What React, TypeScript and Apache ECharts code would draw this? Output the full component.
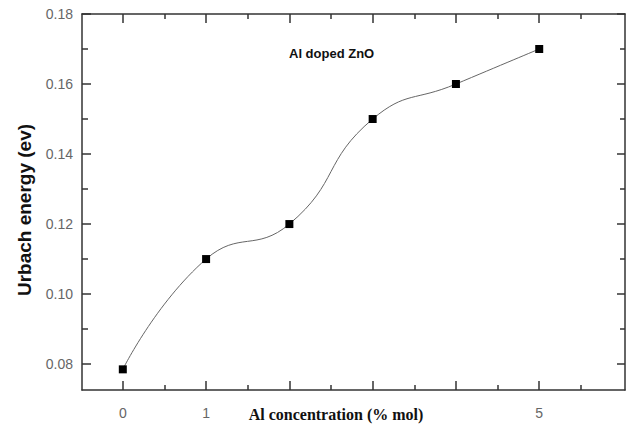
import React, { useEffect, useRef } from "react";
import * as echarts from "echarts";

const concentration = [0, 1, 2, 3, 4, 5];
const urbachEnergy = [0.0785, 0.11, 0.12, 0.15, 0.16, 0.17];
const xMajorTicks = [0, 1, 2, 3, 4, 5];
const xMinorTicks = [0.5, 1.5, 2.5, 3.5, 4.5, 5.5];
const xTickLabels = [0, 1, 5];
const yMajorTicks = [0.08, 0.1, 0.12, 0.14, 0.16, 0.18];
const yMinorTicks = [0.09, 0.11, 0.13, 0.15, 0.17];
const xTitle = "Al concentration (% mol)";
const yTitle = "Urbach energy (ev)";
const annotation = "Al doped ZnO";

const X_MIN = -0.49;
const X_MAX = 6.03;
const Y_MIN = 0.0726;
const Y_MAX = 0.18;

export default function App() {
  const ref = useRef<HTMLDivElement>(null);
  useEffect(() => {
    if (!ref.current) return;
    const chart = echarts.init(ref.current, null, { renderer: "svg" });
    const lineColor = "#333";
    const labelColor = "#666";
    const baseX = (pos: "bottom" | "top", ticks: number[], len: number, showLine: boolean, labels: boolean) => ({
      type: "value",
      position: pos,
      min: X_MIN,
      max: X_MAX,
      splitLine: { show: false },
      axisLine: { show: showLine, onZero: false, lineStyle: { color: lineColor, width: 1.5 } },
      axisTick: { show: true, inside: true, length: len, customValues: ticks, lineStyle: { color: lineColor, width: 1.5 } },
      axisLabel: labels
        ? { show: true, customValues: xTickLabels, color: labelColor, fontSize: 14, fontFamily: "Arial, Liberation Sans, sans-serif", margin: 16 }
        : { show: false },
    });
    const baseY = (pos: "left" | "right", ticks: number[], len: number, showLine: boolean, labels: boolean) => ({
      type: "value",
      position: pos,
      min: Y_MIN,
      max: Y_MAX,
      splitLine: { show: false },
      axisLine: { show: showLine, onZero: false, lineStyle: { color: lineColor, width: 1.5 } },
      axisTick: { show: true, inside: true, length: len, customValues: ticks, lineStyle: { color: lineColor, width: 1.5 } },
      axisLabel: labels
        ? {
            show: true,
            customValues: yMajorTicks,
            color: labelColor,
            fontSize: 14,
            fontFamily: "Arial, Liberation Sans, sans-serif",
            margin: 9,
            formatter: (v: number) => v.toFixed(2),
          }
        : { show: false },
    });
    chart.setOption({
      animation: false,
      backgroundColor: "#fff",
      grid: { left: 82, top: 14, right: 1, bottom: 38, containLabel: false, outerBoundsMode: "none" },
      xAxis: [
        baseX("bottom", xMajorTicks, 9, true, true),
        baseX("bottom", xMinorTicks, 5, false, false),
        baseX("top", xMajorTicks, 9, true, false),
        baseX("top", xMinorTicks, 5, false, false),
      ],
      yAxis: [
        baseY("left", yMajorTicks, 9, true, true),
        baseY("left", yMinorTicks, 6, false, false),
        baseY("right", yMajorTicks, 8, true, false),
        baseY("right", yMinorTicks, 5, false, false),
      ],
      graphic: [
        {
          type: "text",
          left: 289,
          top: 47,
          style: {
            text: annotation,
            fontFamily: "Arial, Liberation Sans, sans-serif",
            fontWeight: "bold",
            fontSize: 13,
            fill: "#111",
          },
        },
        {
          type: "text",
          x: 336,
          y: 414,
          style: {
            text: xTitle,
            fontFamily: "Liberation Serif",
            fontWeight: "bold",
            fontSize: 16,
            fill: "#111",
            align: "center",
            verticalAlign: "middle",
          },
        },
        {
          type: "text",
          x: 24,
          y: 210,
          rotation: Math.PI / 2,
          style: {
            text: yTitle,
            fontFamily: "Liberation Sans",
            fontWeight: "bold",
            fontSize: 19,
            fill: "#111",
            align: "center",
            verticalAlign: "middle",
          },
        },
      ],
      series: [
        {
          type: "line",
          xAxisIndex: 0,
          yAxisIndex: 0,
          data: concentration.map((c, i) => [c, urbachEnergy[i]]),
          smooth: 0.5,
          symbol: "rect",
          symbolSize: 8,
          itemStyle: { color: "#000" },
          lineStyle: { color: "#666", width: 1 },
        },
      ],
    });
    return () => chart.dispose();
  }, []);
  return <div ref={ref} style={{ width: 626, height: 428, position: "absolute", left: 0, top: 0 }} />;
}
